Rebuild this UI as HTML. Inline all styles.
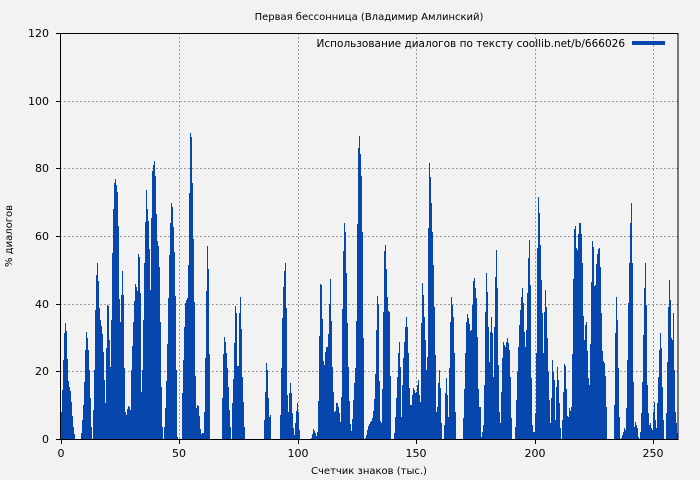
<!DOCTYPE html>
<html><head><meta charset="utf-8"><style>
body{margin:0;background:#f2f2f2;}
svg{display:block;font-family:"DejaVu Sans","Liberation Sans",sans-serif;}
</style></head><body>
<svg id="s" width="700" height="480" xmlns="http://www.w3.org/2000/svg">
<rect width="700" height="480" fill="#f2f2f2"/>
<text x="369" y="20" font-size="10" text-anchor="middle" fill="#000">Первая бессонница (Владимир Амлинский)</text>
<g id="grid" stroke="#999" stroke-width="1" stroke-dasharray="2,2">
<line x1="179.5" y1="33" x2="179.5" y2="439"/><line x1="298.5" y1="33" x2="298.5" y2="439"/>
<line x1="416.5" y1="33" x2="416.5" y2="439"/><line x1="535.5" y1="33" x2="535.5" y2="439"/>
<line x1="653.5" y1="33" x2="653.5" y2="439"/>
<line x1="60" y1="101.5" x2="678" y2="101.5"/><line x1="60" y1="168.5" x2="678" y2="168.5"/>
<line x1="60" y1="236.5" x2="678" y2="236.5"/><line x1="60" y1="304.5" x2="678" y2="304.5"/>
<line x1="60" y1="371.5" x2="678" y2="371.5"/>
</g>
<g id="bars" fill="#0746ad"></g>
<rect x="60.5" y="33.5" width="617.5" height="406" fill="none" stroke="#000" stroke-width="1"/>
<g font-size="11" fill="#000" text-anchor="end">
<text x="49" y="443">0</text><text x="49" y="375">20</text><text x="49" y="308">40</text>
<text x="49" y="240">60</text><text x="49" y="172">80</text><text x="49" y="105">100</text><text x="49" y="37">120</text>
</g>
<g stroke="#000"><line x1="56" y1="439.5" x2="60" y2="439.5"/><line x1="56" y1="371.5" x2="60" y2="371.5"/><line x1="56" y1="304.5" x2="60" y2="304.5"/><line x1="56" y1="236.5" x2="60" y2="236.5"/><line x1="56" y1="168.5" x2="60" y2="168.5"/><line x1="56" y1="101.5" x2="60" y2="101.5"/><line x1="56" y1="33.5" x2="60" y2="33.5"/>
<line x1="61.5" y1="440" x2="61.5" y2="444"/><line x1="179.5" y1="440" x2="179.5" y2="444"/><line x1="298.5" y1="440" x2="298.5" y2="444"/><line x1="416.5" y1="440" x2="416.5" y2="444"/><line x1="535.5" y1="440" x2="535.5" y2="444"/><line x1="653.5" y1="440" x2="653.5" y2="444"/></g>
<g font-size="11" fill="#000" text-anchor="middle">
<text x="61" y="457">0</text><text x="179" y="457">50</text><text x="298" y="457">100</text><text x="416" y="457">150</text><text x="535" y="457">200</text><text x="653" y="457">250</text>
<text x="369" y="474" font-size="10">Счетчик знаков (тыс.)</text>
</g>
<text transform="translate(12,236) rotate(-90)" font-size="10" text-anchor="middle" fill="#000">% диалогов</text>
<text x="625" y="47" font-size="10.5" text-anchor="end" fill="#000">Использование диалогов по тексту coollib.net/b/666026</text>
<rect x="632" y="41" width="33" height="4" fill="#0746ad"/>
</svg>
<script>
var Z=[[60,[
[[3,935],[6,870],[9,780],[12,700],[16,657],[19,710],[22,810],[25,860],[28,860],[31,880],[34,920],[37,960],[40,990],[43,1010]],
[[63,1000],[66,960],[69,915],[72,845],[75,750],[78,697],[81,715],[84,750],[87,810],[90,895],[93,980]],
[[100,930],[103,750],[106,570],[110,477],[113,510],[116,610],[120,660],[125,690],[128,725],[131,815],[135,910],[139,690],[142,576],[145,640],[148,760],[151,820],[154,580],[157,400],[160,290],[163,228],[166,240],[169,262],[172,285],[175,425],[178,685],[181,655],[184,550],[187,495],[190,628],[193,890],[196,960],[200,930],[205,915],[210,930],[213,810],[217,715],[220,640],[224,565],[227,530],[230,620],[233,475],[236,435],[240,580],[243,875],[246,810],[249,660],[252,490],[256,325],[259,243],[262,370],[265,360],[268,490],[271,610],[274,225],[277,205],[280,190],[283,180],[286,250],[289,390],[292,440],[295,435],[298,535],[301,730],[304,925],[307,1010]],
[[313,980],[316,895],[319,815],[322,690],[325,545],[328,425],[331,340],[334,295],[337,335],[340,405],[343,480],[346,640],[349,895],[351,1010]],
[[365,910],[368,815],[372,680],[375,610],[378,600],[381,595],[385,460],[388,190],[391,55],[394,140],[397,305],[400,475],[403,670],[406,905],[409,935],[412,905],[415,925],[418,960],[421,1000],[424,1005],[427,995],[430,1000],[433,905],[436,710],[439,505],[442,405],[445,560],[448,865]],
[[485,945],[488,790],[491,708],[494,718],[497,745],[500,785],[503,840],[506,905],[509,980]],
[[515,930],[518,870],[521,775],[524,640],[527,575],[530,765],[533,860],[536,670],[539,575],[542,625],[545,810],[548,870],[551,980]],
[[613,960],[616,835],[619,768],[622,830],[626,955],[630,945]]]],
[270,[
[[30,945],[33,805],[36,655],[39,560],[42,512],[45,490],[48,625],[51,885],[54,935],[57,880],[60,850],[63,880],[66,940],[69,985],[72,1005],[75,970],[78,932],[81,910],[84,935],[87,990]],
[[124,1015],[127,995],[130,985],[133,995],[136,1000],[139,1010],[142,990],[145,860],[148,630],[151,512],[154,575],[157,700],[160,825],[163,780],[166,745],[169,740],[172,740],[175,685],[178,575],[181,520],[184,735],[187,835],[190,895],[193,955],[196,920],[199,905],[202,910],[205,925],[208,945],[211,975],[214,850],[217,515],[220,420],[223,345],[226,420],[229,570],[232,720],[235,840],[238,935],[241,990],[244,995],[247,940],[250,880],[253,835],[256,790],[259,600],[262,260],[265,88],[268,120],[271,185],[274,250],[277,470],[280,835]],
[[286,1015],[289,1000],[292,985],[295,975],[298,970],[301,965],[304,960],[307,950],[310,925],[313,885],[316,790],[319,640],[322,560],[325,640],[328,945],[331,970],[334,970],[337,815],[340,545],[343,408],[346,450],[349,535],[352,620],[355,640],[358,635],[361,925]],
[[372,1000],[375,950],[378,895],[381,830],[384,760],[387,725],[390,800],[393,950],[396,855],[399,775],[402,725],[405,680],[408,650],[411,680],[414,760],[417,865],[420,915],[423,915],[426,885],[429,865],[432,870],[435,880],[438,875],[441,855],[444,840],[447,885],[450,905],[453,670],[456,550],[459,585],[462,650],[465,720],[468,810],[471,770],[474,385],[477,190],[480,230],[483,310],[486,395],[489,495],[492,620],[495,765],[498,935],[501,920],[504,850],[507,810],[510,865],[513,970]],
[[522,975],[525,880],[528,835],[531,885],[534,950],[537,805],[540,665],[543,590],[546,615],[549,650],[552,760],[555,935]],
[[580,955],[583,825],[586,725],[589,635],[592,645],[595,660],[598,680],[601,700],[604,685],[607,580],[610,525],[613,540],[616,575],[619,605],[622,765],[625,920],[630,920]]]],
[470,[
[[0,680],[3,700],[6,685],[9,580],[12,520],[15,540],[18,570],[21,600],[24,720],[27,920]],
[[33,1010],[36,995],[39,975],[42,855],[45,635],[48,520],[51,575],[54,680],[57,785],[60,695],[63,650],[66,700],[69,830],[72,680],[75,530],[78,450],[81,565],[84,795],[87,935],[90,970],[93,875],[96,775],[99,725],[102,735],[105,740],[108,725],[111,715],[114,730],[117,750],[120,830],[123,955]],
[[135,980],[138,900],[141,815],[144,740],[147,675],[150,630],[153,590],[156,565],[159,610],[162,695],[165,740],[168,690],[171,580],[174,475],[177,420],[180,555],[183,835],[186,975],[189,995],[192,995],[195,940],[198,760],[201,445],[204,290],[207,340],[210,435],[213,540],[216,640],[219,760],[222,635],[225,570],[228,620],[231,715],[234,815],[237,900],[240,970],[243,895],[246,780],[249,815],[252,840],[255,960],[258,860],[261,800],[264,840],[267,910],[270,985]],
[[277,960],[280,835],[283,770],[286,810],[289,895],[292,975],[295,940],[298,915],[301,940],[304,910],[307,690],[310,460],[313,350],[316,390],[319,470],[322,440],[325,385],[328,360],[331,375],[334,415],[337,525],[340,710],[343,725],[346,650],[349,675],[352,790],[355,855],[358,855],[361,670],[364,485],[367,390],[370,465],[373,605],[376,530],[379,475],[382,455],[385,445],[388,445],[391,530],[394,695],[397,780],[400,785],[403,790],[406,845],[409,960]],
[[432,915],[435,700],[438,590],[441,660],[444,805],[447,950]],
[[453,1015],[456,1005],[459,995],[462,985],[465,990],[468,925],[471,780],[474,610],[477,490],[480,370],[483,310],[486,490],[489,845],[492,980],[495,965],[498,975],[501,985],[504,1010]],
[[510,995],[513,940],[516,845],[519,705],[522,565],[525,490],[528,615],[531,855],[534,940],[537,975],[540,970],[543,985],[546,990],[549,935],[552,905],[555,960],[558,985],[561,910],[564,830],[567,750],[570,700],[573,745],[576,860],[579,960]],
[[588,940],[591,785],[594,620],[597,540],[600,600],[603,715],[606,720],[609,640],[612,810],[615,935],[618,970],[621,1000]]]]];
var g=document.getElementById('bars'),h='',done={};
Z.forEach(function(z){var off=z[0];z[1].forEach(function(seg){
 var p=seg.map(function(a){return [off+a[0]/3,100+a[1]/3];});
 var x0=Math.round(p[0][0]),x1=Math.round(p[p.length-1][0]);
 for(var x=x0;x<=x1;x++){ if(done[x]||x>=678)continue;
  var y=p[0][1];
  for(var i=0;i<p.length-1;i++){ if(x>=p[i][0]&&x<=p[i+1][0]){var t=(x-p[i][0])/((p[i+1][0]-p[i][0])||1);y=p[i][1]+t*(p[i+1][1]-p[i][1]);break;} if(x>p[i+1][0])y=p[i+1][1];}
  y=Math.round(y); if(y<439){done[x]=1;h+='<rect x="'+x+'" y="'+y+'" width="1" height="'+(439-y)+'"/>';}
 }
});});
g.innerHTML=h;
</script>
</body></html>
